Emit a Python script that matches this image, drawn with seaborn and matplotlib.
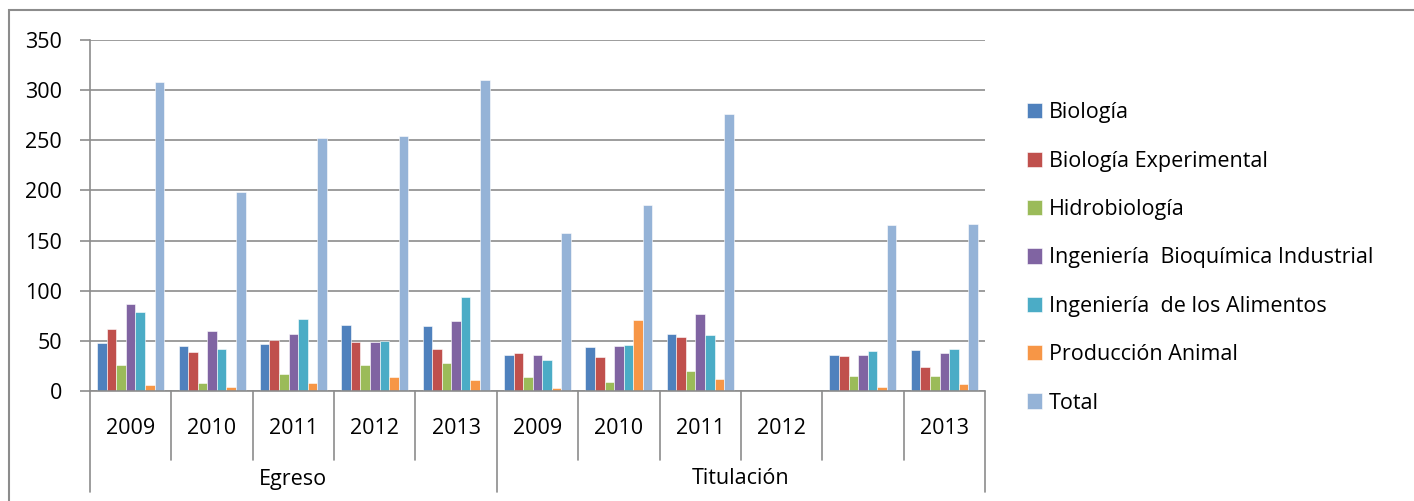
import pandas as pd
import matplotlib.pyplot as plt
import seaborn as sns
from matplotlib.patches import Rectangle
from matplotlib.transforms import blended_transform_factory

# categories (two-level axis)
groups = ["Egreso"] * 5 + ["Titulación"] * 6
years = ["2009", "2010", "2011", "2012", "2013", "2009", "2010", "2011", "2012", "", "2013"]

series = ["Biología", "Biología Experimental", "Hidrobiología",
          "Ingeniería  Bioquímica Industrial", "Ingeniería  de los Alimentos",
          "Producción Animal", "Total"]

nan = float("nan")
biologia = [48, 45, 47, 66, 65, 36, 44, 57, nan, 36, 41]
biologia_exp = [62, 39, 51, 49, 42, 38, 34, 54, nan, 35, 24]
hidrobiologia = [26, 8, 17, 26, 28, 14, 9, 20, nan, 15, 15]
ing_bioquimica = [87, 60, 57, 49, 70, 36, 45, 77, nan, 36, 38]
ing_alimentos = [79, 42, 72, 50, 94, 31, 46, 56, nan, 40, 42]
produccion = [6, 4, 8, 14, 11, 3, 71, 12, nan, 4, 7]
total = [308, 198, 252, 254, 310, 158, 185, 276, nan, 166, 167]

colors = ["#4F81BD", "#C0504D", "#9BBB59", "#8064A2", "#4BACC6", "#F79646", "#95B3D7"]

values = [biologia, biologia_exp, hidrobiologia, ing_bioquimica, ing_alimentos, produccion, total]
keys = [f"c{i}" for i in range(len(years))]
rows = []
for name, vals in zip(series, values):
    for k, v in zip(keys, vals):
        rows.append({"cat": k, "serie": name, "valor": v})
df = pd.DataFrame(rows)

sns.set_style("white")
plt.rcParams["font.family"] = ["Open Sans", "DejaVu Sans"]
plt.rcParams["text.color"] = "black"
FS = 15.5

fig = plt.figure(figsize=(14.14, 5.01), dpi=100)
ax = fig.add_axes([90 / 1414, 110 / 501, 895 / 1414, 351 / 501])

sns.barplot(data=df, x="cat", y="valor", hue="serie", order=keys, hue_order=series,
            palette=colors, width=7 / 8.5, ax=ax, saturation=1, legend=True,
            edgecolor="white", linewidth=0.4)

grid_c = "#8c8c8c"
ax.set_ylim(0, 350)
ax.set_xlim(-0.5, len(keys) - 0.5)
ax.set_yticks(range(0, 351, 50))
ax.yaxis.grid(True, color=grid_c, linewidth=1.2)
ax.set_axisbelow(True)
for s in ["top", "right", "bottom"]:
    ax.spines[s].set_visible(False)
ax.spines["left"].set_color(grid_c)
ax.spines["left"].set_linewidth(1.2)
ax.tick_params(axis="y", left=True, length=7, color=grid_c, width=1.2,
               labelsize=FS, pad=13, labelcolor="black")
ax.set_xticks([])
ax.set_xlabel("")
ax.set_ylabel("")

# multi-level category axis
tr = blended_transform_factory(ax.transData, fig.transFigure)
y_base = 110 / 501
y_year_end = 41 / 501
y_group_end = 9 / 501
kw = dict(color=grid_c, linewidth=1.2, transform=tr, clip_on=False)
ax.plot([-0.5, len(keys) - 0.5], [y_base, y_base], **kw)
for i in range(len(keys) + 1):
    x = i - 0.5
    end = y_group_end if i in (0, 5, len(keys)) else y_year_end
    ax.plot([x, x], [y_base, end], **kw)
for i, yr in enumerate(years):
    ax.text(i, 73 / 501, yr, transform=tr, ha="center", va="center", fontsize=FS)
ax.text(2, 22 / 501, "Egreso", transform=tr, ha="center", va="center", fontsize=FS)
ax.text(7.5, 22 / 501, "Titulación", transform=tr, ha="center", va="center", fontsize=FS)

# legend
handles, labels = ax.get_legend_handles_labels()
ax.legend(handles, labels, loc="center left", bbox_to_anchor=(1027 / 1414, (501 - 258) / 501),
          bbox_transform=fig.transFigure, frameon=False, fontsize=FS,
          handlelength=0.7, handleheight=0.7, handletextpad=0.3, labelspacing=1.27,
          borderaxespad=0, borderpad=0)

# outer chart frame
fig.patches.append(Rectangle((9 / 1414, -0.1), 1.2, 1 - 10 / 501 + 0.1,
                             transform=fig.transFigure, fill=False,
                             edgecolor=grid_c, linewidth=1.5))

fig.savefig("out.png", dpi=100)
